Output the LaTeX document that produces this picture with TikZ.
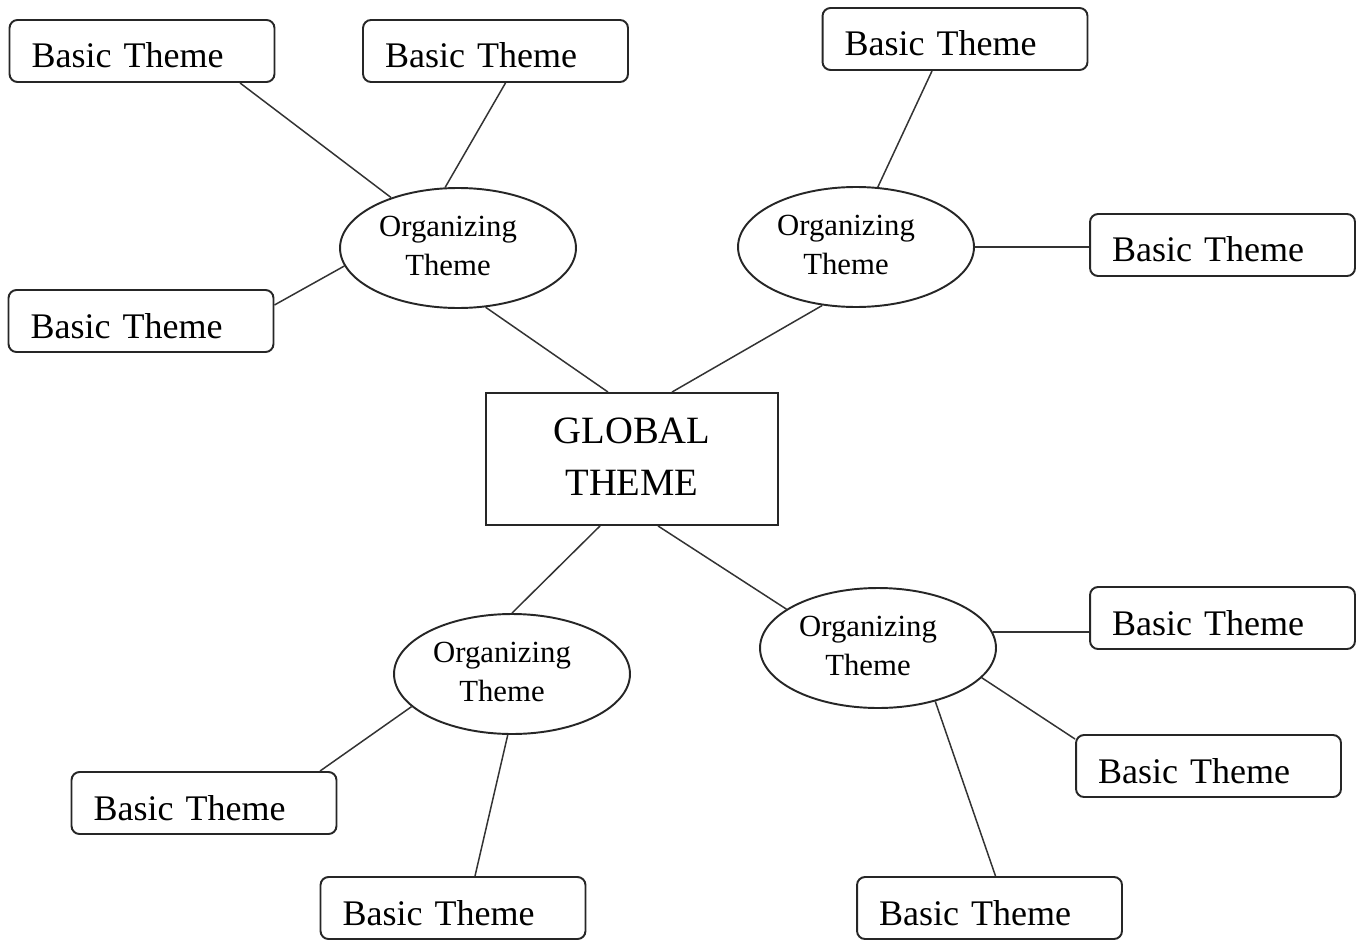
\documentclass[tikz,border=0pt]{standalone}
\usepackage{fontspec}
\setmainfont{Liberation Serif}
\usetikzlibrary{shapes.geometric,calc}
\newcommand{\orgtext}{\raisebox{0.14cm}{\begin{tabular}{@{}c@{}}Organizing\\Theme\end{tabular}}\hspace*{0.4cm}}
\begin{document}
\begin{tikzpicture}[x=0.02cm,y=-0.02cm,
  basic/.style={draw=black!85, line width=1.1pt, rounded corners=0.16cm,
    minimum width=5.3cm, minimum height=1.24cm, inner xsep=0.44cm, inner ysep=0pt,
    text width=4.42cm, align=left, text height=0.8cm, text depth=0.12cm,
    font=\fontsize{20.5}{24}\selectfont},
  org/.style={draw=black!85, line width=1.1pt, ellipse, minimum width=4.72cm,
    minimum height=2.4cm, inner sep=0pt,
    font=\fontsize{17.5}{22.7}\selectfont},
  glob/.style={draw=black!85, line width=1.1pt, rectangle, minimum width=5.84cm,
    minimum height=2.64cm, inner sep=0pt,
    font=\fontsize{22}{30}\selectfont},
  link/.style={draw=black!80, line width=0.85pt}]
\useasboundingbox (0,0) rectangle (1364,939);

\node[glob] (G) at (632,459) {\raisebox{0.1cm}{\begin{tabular}{@{}c@{}}GLOBAL\\THEME\end{tabular}}};

\node[org] (E1) at (458,248) {\orgtext};
\node[org] (E2) at (856,247) {\orgtext};
\node[org] (E3) at (512,674) {\orgtext};
\node[org] (E4) at (878,648) {\orgtext};

\node[basic] (B1) at (142,51) {Basic Theme};
\node[basic] (B2) at (495.5,51) {Basic Theme};
\node[basic] (B3) at (955,39) {Basic Theme};
\node[basic] (B4) at (1222.5,245) {Basic Theme};
\node[basic] (B5) at (141,321) {Basic Theme};
\node[basic] (B6) at (1222.5,618) {Basic Theme};
\node[basic] (B7) at (1208.5,766) {Basic Theme};
\node[basic] (B8) at (204,803) {Basic Theme};
\node[basic] (B9) at (453,908) {Basic Theme};
\node[basic] (B10) at (989.5,908) {Basic Theme};

% organizing theme 1
\draw[link] ($(B1.south)+(98,0)$) -- (E1.143);
\draw[link] ($(B2.south)+(10,0)$) -- (E1.102);
\draw[link] ($(B5.east)+(0,-16)$) -- (E1.189);
\draw[link] (E1.295) -- ($(G.north)+(-24,0)$);
% organizing theme 2
\draw[link] ($(B3.south)+(-23,0)$) -- (E2.70);
\draw[link] (E2.east) -- (E2.east -| B4.west);
\draw[link] (E2.240) -- ($(G.north)+(40,0)$);
% organizing theme 3
\draw[link] ($(G.south)+(-32,0)$) -- (E3.north);
\draw[link] (E3.198) -- ($(B8.north)+(116,0)$);
\draw[link] (E3.266) -- ($(B9.north)+(22,0)$);
% organizing theme 4
\draw[link] ($(G.south)+(26,0)$) -- (E4.157);
\draw[link] (E4.8) -- (E4.8 -| B6.west);
\draw[link] (E4.344) -- ($(B7.north west)+(0,5)$);
\draw[link] (E4.317) -- ($(B10.north)+(6,0)$);
\end{tikzpicture}
\end{document}
